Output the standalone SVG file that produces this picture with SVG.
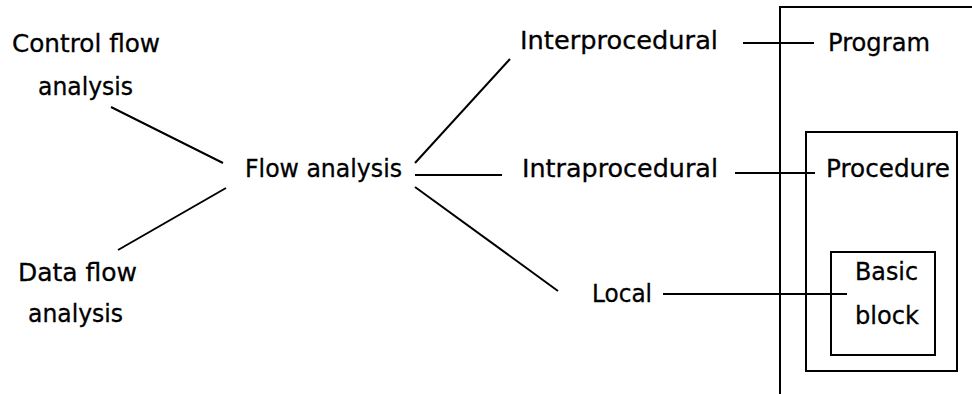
<svg xmlns="http://www.w3.org/2000/svg" width="972" height="394" viewBox="0 0 972 394">
<style>
text { font-family: "Comic Sans MS", "DejaVu Sans", sans-serif; font-size: 24px; fill: #000; stroke: #000; stroke-width: 0.3; }
.ln { stroke: #000; stroke-width: 2; fill: none; }
.box { stroke: #000; stroke-width: 2; fill: none; }
</style>
<rect width="972" height="394" fill="#fff"/>
<g id="scope-boxes">
  <rect id="program-box" class="box" x="780" y="7" width="300" height="500"/>
  <rect id="procedure-box" class="box" x="806" y="132" width="151" height="239"/>
  <rect id="block-box" class="box" x="831" y="252" width="104" height="103"/>
</g>
<g id="connectors">
  <line class="ln" x1="111" y1="107" x2="223" y2="163"/>
  <line class="ln" x1="118" y1="250" x2="226" y2="188"/>
  <line class="ln" x1="415" y1="163" x2="510" y2="59"/>
  <line class="ln" x1="415" y1="175" x2="502" y2="175"/>
  <line class="ln" x1="415" y1="187" x2="558" y2="291"/>
  <line class="ln" x1="743" y1="43" x2="814" y2="43"/>
  <line class="ln" x1="735" y1="173" x2="815" y2="173"/>
  <line class="ln" x1="663" y1="294" x2="847" y2="294"/>
</g>
<g id="control-flow">
  <text x="12" y="52" textLength="148" lengthAdjust="spacingAndGlyphs">Control flow</text>
  <text x="38" y="95" textLength="95" lengthAdjust="spacingAndGlyphs">analysis</text>
</g>
<g id="data-flow">
  <text x="18" y="281" textLength="119" lengthAdjust="spacingAndGlyphs">Data flow</text>
  <text x="28" y="322" textLength="95" lengthAdjust="spacingAndGlyphs">analysis</text>
</g>
<g id="flow-analysis">
  <text x="245" y="177" textLength="157" lengthAdjust="spacingAndGlyphs">Flow analysis</text>
</g>
<g id="interprocedural">
  <text x="520" y="49" textLength="198" lengthAdjust="spacingAndGlyphs">Interprocedural</text>
</g>
<g id="intraprocedural">
  <text x="522" y="177" textLength="196" lengthAdjust="spacingAndGlyphs">Intraprocedural</text>
</g>
<g id="local">
  <text x="592" y="302" textLength="60" lengthAdjust="spacingAndGlyphs">Local</text>
</g>
<g id="program">
  <text x="828" y="51" textLength="102" lengthAdjust="spacingAndGlyphs">Program</text>
</g>
<g id="procedure">
  <text x="826" y="177" textLength="124" lengthAdjust="spacingAndGlyphs">Procedure</text>
</g>
<g id="basic-block">
  <text x="855" y="280" textLength="63" lengthAdjust="spacingAndGlyphs">Basic</text>
  <text x="855" y="324" textLength="64" lengthAdjust="spacingAndGlyphs">block</text>
</g>
</svg>
